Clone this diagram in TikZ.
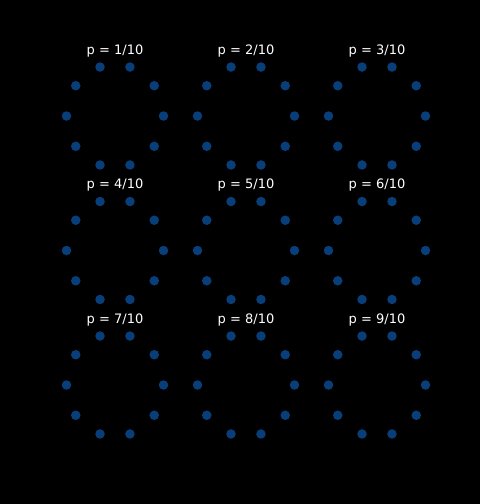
\documentclass[tikz,border=0pt]{standalone}
\usepackage{fontspec}
\setmainfont{DejaVu Sans}
\definecolor{dotblue}{RGB}{8,63,122}
\begin{document}
\begin{tikzpicture}[x=1pt,y=-1pt,
  dot/.style={circle,fill=dotblue,inner sep=0pt,minimum size=9.5pt},
  ttl/.style={text=white,font=\fontsize{13}{15}\selectfont,anchor=base,inner sep=0pt}]
\fill[black] (0,0) rectangle (480,504);
\useasboundingbox (0,0) rectangle (480,504);
\foreach \r in {0,1,2}{
  \foreach \c in {0,1,2}{
    \pgfmathtruncatemacro{\k}{3*\r+\c+1}
    \pgfmathsetmacro{\cx}{115+131*\c}
    \pgfmathsetmacro{\cy}{116+134.5*\r}
    \node[ttl] (t\k) at (\cx,\cy-62) {p = \k/10};
    \foreach \j in {0,...,9}{
      \pgfmathsetmacro{\a}{36*\j}
      \node[dot] (p\k d\j) at ({\cx+48.5*cos(\a)},{\cy-51.5*sin(\a)}) {};
    }
  }
}
\end{tikzpicture}
\end{document}
